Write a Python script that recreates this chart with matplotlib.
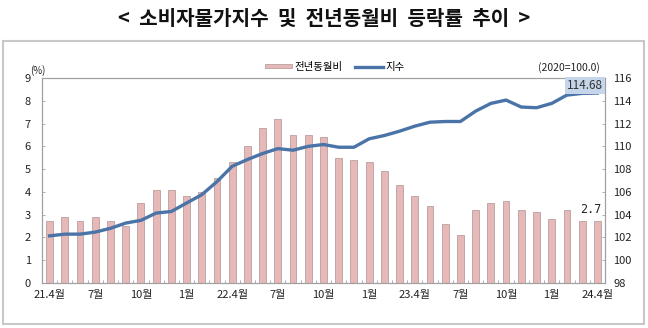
import matplotlib
matplotlib.use("Agg")
import matplotlib.pyplot as plt
from matplotlib.patches import Rectangle
import numpy as np

plt.rcParams["font.family"] = ["Noto Sans CJK KR", "DejaVu Sans"]

# 전년동월비 (%) 21.4 ~ 24.4
yoy = [2.7, 2.9, 2.7, 2.9, 2.7, 2.5, 3.5, 4.1, 4.1, 3.8, 4.0, 4.6, 5.3,
       6.0, 6.8, 7.2, 6.5, 6.5, 6.4, 5.5, 5.4, 5.3, 4.9, 4.3, 3.8, 3.4,
       2.6, 2.1, 3.2, 3.5, 3.6, 3.2, 3.1, 2.8, 3.2, 2.7, 2.7]
# 지수 (2020=100.0)
index = [102.14, 102.29, 102.29, 102.47, 102.8, 103.26, 103.5, 104.14,
         104.28, 105.02, 105.75, 106.9, 108.25, 108.84, 109.37, 109.8,
         109.66, 110.0, 110.16, 109.92, 109.92, 110.66, 110.95, 111.33,
         111.77, 112.12, 112.18, 112.18, 113.09, 113.77, 114.06, 113.45,
         113.39, 113.77, 114.5, 114.65, 114.68]
tick_pos = [0, 3, 6, 9, 12, 15, 18, 21, 24, 27, 30, 33, 36]
tick_labels = ["21.4월", "7월", "10월", "1월", "22.4월", "7월", "10월",
               "1월", "23.4월", "7월", "10월", "1월", "24.4월"]

x = np.arange(len(yoy))

fig = plt.figure(figsize=(6.48, 3.28), dpi=100)
ax = fig.add_axes([0.0648, 0.1372, 0.8688, 0.625])

bars = ax.bar(x, yoy, width=0.45, color="#E6B9B8", edgecolor="#B8A0A0",
              linewidth=0.6, label="전년동월비", zorder=2)
ax.set_xlim(-0.4, 36.4)
ax.set_ylim(0, 9)
ax.set_yticks(range(0, 10))
ax.set_xticks(tick_pos)
ax.set_xticklabels(tick_labels)
ax.set_xticks(np.arange(-0.5, 36.6, 1), minor=True)

ax2 = ax.twinx()
ln, = ax2.plot(x, index, color="#4A74A8", linewidth=2.4, label="지수", zorder=3)
ax2.set_ylim(98, 116)
ax2.set_yticks(range(98, 117, 2))

for a in (ax, ax2):
    for s in a.spines.values():
        s.set_color("#A0A0A0")
        s.set_linewidth(0.8)
    a.tick_params(direction="in", length=2, width=0.6, colors="#A0A0A0",
                  labelcolor="#222222", labelsize=8)
ax.tick_params(axis="x", which="minor", direction="in", length=2, width=0.6,
               colors="#A0A0A0")
ax.tick_params(axis="x", which="major", length=0, pad=5)
ax.tick_params(axis="y", pad=8)
ax2.tick_params(axis="y", pad=6)

# 마지막 값 라벨
ax.annotate("2.7", (x[-1], yoy[-1]), xytext=(-5, 4), textcoords="offset points",
            ha="center", va="bottom", fontsize=8.5, color="#222222",
            family=["DejaVu Sans Mono"])
ax2.text(x[-1] - 0.8, 115.35, "114.68", ha="center", va="center", fontsize=8.5,
         color="#333333", zorder=5,
         bbox=dict(boxstyle="square,pad=0.15", facecolor="#C6D6EA", edgecolor="none"))

fig.text(0.058, 0.785, "(%)", fontsize=7, ha="center", va="center", color="#222222")
fig.text(0.926, 0.795, "(2020=100.0)", fontsize=7.5, ha="right", va="center",
         color="#222222")

ax.legend(handles=[bars, ln], loc="lower center", bbox_to_anchor=(0.52, 1.0),
          ncol=2, frameon=False, fontsize=7.5, handlelength=2.6, handleheight=0.3,
          columnspacing=1.2, handletextpad=0.3, borderaxespad=0.2)

fig.text(0.5, 0.945, "<  소비자물가지수  및  전년동월비  등락률  추이  >", ha="center",
         va="center", fontsize=14.5, fontweight="bold", color="#111111")

fig.patches.append(Rectangle((0.004, 0.013), 0.99, 0.862, transform=fig.transFigure,
                             fill=False, edgecolor="#C8C8C8", linewidth=1.5))

fig.savefig("out.png", dpi=100)
